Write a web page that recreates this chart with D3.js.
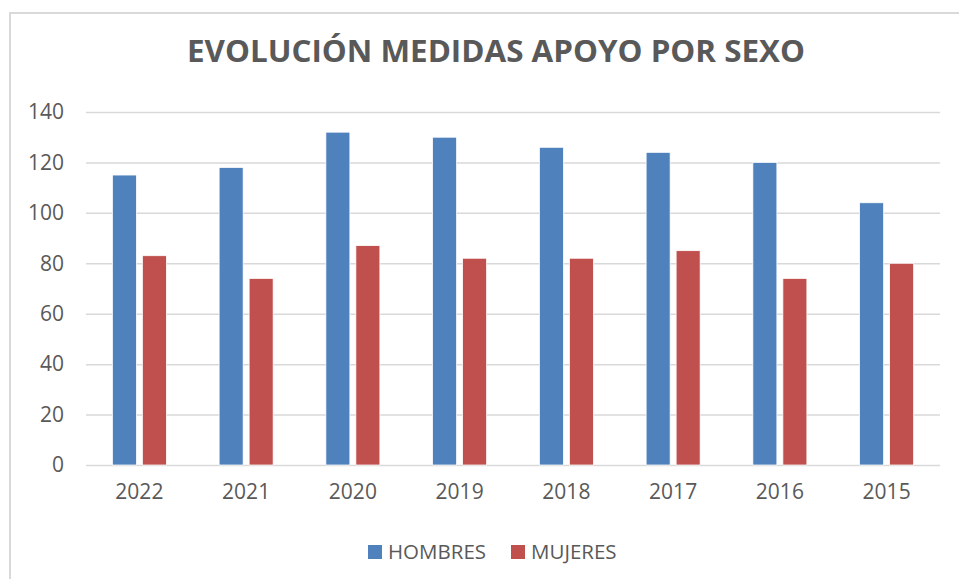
<!DOCTYPE html>
<html>
<head>
<meta charset="utf-8">
<script src="https://cdn.jsdelivr.net/npm/d3@7"></script>
<style>
  body { margin: 0; background: #fff; }
  text { font-family: 'Open Sans', sans-serif; fill: #595959; }
</style>
</head>
<body>
<svg id="chart" width="959" height="579"></svg>
<script>
const years = ['2022', '2021', '2020', '2019', '2018', '2017', '2016', '2015'];
const series = ['HOMBRES', 'MUJERES'];
const hombres = [115, 118, 132, 130, 126, 124, 120, 104];
const mujeres = [83, 74, 87, 82, 82, 85, 74, 80];
const yTicks = [0, 20, 40, 60, 80, 100, 120, 140];
const colours = ['#4F81BD', '#C0504D'];

const width = 959,
  height = 579,
  margins = { left: 86, right: 19, top: 112, bottom: 114 };

const vis = d3.select('#chart');

// outer frame
vis
  .append('rect')
  .attr('x', 10)
  .attr('y', 13)
  .attr('width', 970)
  .attr('height', 600)
  .attr('fill', 'none')
  .attr('stroke', '#D9D9D9')
  .attr('stroke-width', 2);

vis
  .append('text')
  .attr('x', 496)
  .attr('y', 62)
  .attr('text-anchor', 'middle')
  .attr('textLength', 618)
  .attr('lengthAdjust', 'spacingAndGlyphs')
  .style('font-size', '31px')
  .style('font-weight', 'bold')
  .text('EVOLUCIÓN MEDIDAS APOYO POR SEXO');

const xScale = d3
    .scaleBand()
    .domain(years)
    .range([margins.left, width - margins.right]),
  xInner = d3
    .scaleBand()
    .domain(series)
    .range([0, 54])
    .paddingInner(0.2),
  yScale = d3
    .scaleLinear()
    .domain([0, 140])
    .range([height - margins.bottom, margins.top]);

// gridlines
vis
  .append('g')
  .attr('class', 'grid')
  .attr('transform', 'translate(' + margins.left + ',0)')
  .call(
    d3
      .axisLeft(yScale)
      .tickValues(yTicks)
      .tickSize(-(width - margins.left - margins.right))
      .tickFormat('')
  )
  .call(g => g.select('.domain').remove())
  .call(g => g.selectAll('.tick line').attr('stroke', '#D9D9D9').attr('stroke-width', 1.5));

// y axis labels
vis
  .append('g')
  .attr('transform', 'translate(' + margins.left + ',0)')
  .call(d3.axisLeft(yScale).tickValues(yTicks).tickSize(0).tickPadding(22))
  .call(g => g.select('.domain').remove())
  .call(g => g.selectAll('text').style('font-size', '21px').attr('fill', '#595959'));

// x axis labels
vis
  .append('g')
  .attr('transform', 'translate(0,' + (height - margins.bottom) + ')')
  .call(d3.axisBottom(xScale).tickSize(0).tickPadding(19))
  .call(g => g.select('.domain').remove())
  .call(g => g.selectAll('text').style('font-size', '21px').attr('fill', '#595959'));

const rows = years.map((y, i) => ({ year: y, values: [hombres[i], mujeres[i]] }));

vis
  .append('g')
  .selectAll('g')
  .data(rows)
  .join('g')
  .attr('transform', d => 'translate(' + (xScale(d.year) + xScale.bandwidth() / 2 - 27) + ',0)')
  .selectAll('rect')
  .data(d => d.values.map((v, j) => ({ key: series[j], value: v, j })))
  .join('rect')
  .attr('x', d => xInner(d.key))
  .attr('width', xInner.bandwidth())
  .attr('y', d => yScale(d.value))
  .attr('height', d => yScale(0) - yScale(d.value))
  .attr('fill', d => colours[d.j])
  .attr('stroke', '#fff')
  .attr('stroke-width', 0.75);

// legend
const legendX = [368, 511];
const legend = vis
  .append('g')
  .selectAll('g')
  .data(series)
  .join('g')
  .attr('transform', (d, i) => 'translate(' + legendX[i] + ',545)');

legend
  .append('rect')
  .attr('width', 14)
  .attr('height', 14)
  .attr('fill', (d, i) => colours[i]);

legend
  .append('text')
  .attr('x', 20)
  .attr('y', 14)
  .style('font-size', '20.5px')
  .text(d => d);
</script>
</body>
</html>
